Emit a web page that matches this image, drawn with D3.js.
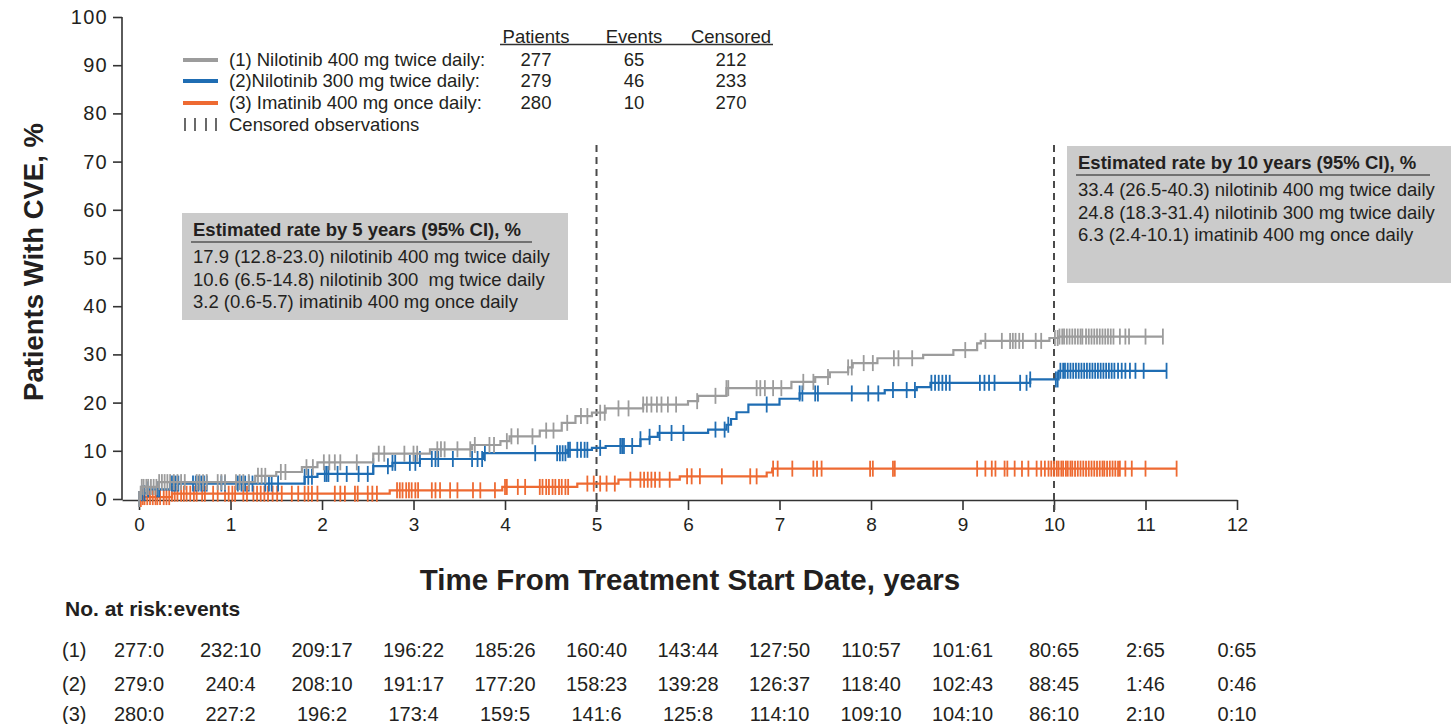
<!DOCTYPE html>
<html>
<head>
<meta charset="utf-8">
<script src="https://cdn.jsdelivr.net/npm/d3@7"></script>
<style>
  html, body { margin: 0; padding: 0; background: #fff; }
  svg { display: block; font-family: "Liberation Sans", Arial, Helvetica, sans-serif; }
  text { white-space: pre; }
</style>
</head>
<body>
<svg id="chart" width="1451" height="724"></svg>
<script>
// ---- Cumulative incidence step functions (years, %) ----
const arm1Times = [0, 0.02, 0.21, 1.27, 1.5, 1.78, 1.95, 2.56, 3.18, 3.64, 3.95, 4.05, 4.38, 4.62, 4.77, 4.95, 5.1, 5.51, 6.0, 6.11, 6.42, 7.13, 7.39, 7.55, 7.75, 7.8, 8.07, 8.57, 8.9, 9.16, 9.2, 9.95, 10.05];
const arm1Rates = [0, 2.5, 3.5, 4.8, 5.6, 6.6, 7.6, 9.4, 10.3, 11.2, 12.0, 13.0, 14.2, 15.8, 17.2, 17.9, 18.8, 19.6, 20.3, 21.4, 23.0, 24.3, 25.3, 26.3, 27.3, 28.2, 29.2, 29.9, 30.9, 32.3, 32.8, 33.4, 33.7];
const arm1End = 11.19;

const arm2Times = [0, 0.03, 0.1, 0.34, 1.81, 1.95, 2.56, 2.77, 3.07, 3.76, 4.68, 4.95, 5.1, 5.48, 5.58, 5.67, 6.22, 6.42, 6.47, 6.53, 6.66, 7.0, 7.22, 8.15, 8.5, 8.65, 9.74, 10.05];
const arm2Rates = [0, 1.2, 2.0, 3.2, 4.6, 5.2, 6.8, 7.5, 8.3, 9.5, 10.2, 10.6, 11.0, 12.4, 12.9, 13.7, 14.4, 15.4, 16.6, 18.0, 19.6, 20.8, 21.9, 22.6, 23.2, 24.1, 24.8, 26.6];
const arm2End = 11.23;

const arm3Times = [0, 0.04, 0.36, 2.74, 3.97, 4.79, 5.24, 5.91, 6.86, 6.92];
const arm3Rates = [0, 0.4, 1.1, 1.8, 2.5, 3.2, 4.0, 4.7, 5.5, 6.3];
const arm3End = 11.34;

// ---- Censoring times (years) ----
const arm1Censored = [0.0,0.03,0.05,0.08,0.1,0.13,0.16,0.19,0.22,0.25,0.28,0.31,0.34,0.38,0.42,0.46,0.5,
  0.63,0.66,0.7,0.74,0.86,0.9,0.94,1.06,1.1,1.14,1.2,1.3,1.34,1.38,1.55,1.6,1.83,1.9,2.02,2.08,2.14,2.2,2.38,
  2.62,2.68,2.9,3.0,3.04,3.26,3.3,3.34,3.48,3.62,3.67,3.83,3.88,4.02,4.07,4.14,4.3,4.45,4.53,4.68,4.83,4.9,
  5.04,5.09,5.24,5.35,5.51,5.55,5.6,5.66,5.71,5.78,5.87,6.1,6.3,6.42,6.44,6.75,6.79,6.84,6.93,7.02,7.26,7.37,
  7.53,7.75,7.79,7.92,8.02,8.25,8.3,8.45,9.03,9.25,9.43,9.52,9.55,9.58,9.62,9.66,9.8,9.86,
  10.01,10.04,10.06,10.09,10.11,10.14,10.17,10.2,10.23,10.26,10.29,10.31,10.35,10.38,10.41,10.44,10.47,10.5,
  10.53,10.56,10.59,10.62,10.65,10.72,10.78,10.82,11.0,11.19];

const arm2Censored = [0.0,0.03,0.06,0.1,0.2,0.22,0.36,0.38,0.4,0.43,0.59,0.62,0.65,0.68,0.71,0.74,0.9,0.94,
  1.08,1.12,1.16,1.2,1.24,1.38,1.42,1.45,1.52,1.81,1.85,1.89,2.03,2.05,2.07,2.17,2.27,2.4,2.5,2.56,2.72,2.77,2.8,
  2.96,3.02,3.07,3.2,3.24,3.27,3.43,3.64,3.7,3.75,3.78,4.33,4.57,4.6,4.63,4.66,4.69,4.71,4.79,4.83,4.87,4.9,
  5.04,5.26,5.28,5.3,5.39,5.48,5.58,5.69,5.82,5.95,6.3,6.4,6.44,6.86,7.22,7.25,7.39,7.42,7.79,7.97,8.08,8.24,
  8.39,8.48,8.66,8.7,8.74,8.78,8.82,8.86,9.19,9.24,9.29,9.35,9.63,9.7,9.74,
  10.02,10.04,10.07,10.1,10.12,10.15,10.18,10.21,10.24,10.27,10.3,10.33,10.36,10.39,10.42,10.45,10.48,10.51,
  10.54,10.57,10.6,10.63,10.66,10.7,10.74,10.78,10.83,10.89,10.98,11.23];

const arm3Censored = [0.0,0.02,0.04,0.06,0.09,0.12,0.15,0.18,0.2,0.23,0.27,0.3,0.33,0.36,0.39,0.42,0.46,0.49,
  0.52,0.56,0.6,0.63,0.69,0.72,0.81,0.86,0.94,0.98,1.02,1.05,1.14,1.18,1.25,1.29,1.33,1.37,1.41,1.46,1.51,1.56,
  1.67,1.74,1.81,1.85,1.89,1.95,2.14,2.2,2.25,2.36,2.39,2.5,2.55,2.6,2.82,2.85,2.88,2.92,2.95,2.98,3.02,3.05,
  3.2,3.24,3.29,3.4,3.48,3.65,3.73,3.89,4.0,4.02,4.14,4.22,4.38,4.41,4.45,4.48,4.52,4.55,4.59,4.62,4.66,4.69,
  4.9,4.97,5.04,5.11,5.2,5.37,5.48,5.52,5.56,5.6,5.64,5.69,5.8,5.99,6.04,6.13,6.37,6.68,6.75,6.93,6.98,7.14,
  7.37,7.41,7.46,7.99,8.02,8.24,8.26,9.16,9.25,9.32,9.36,9.46,9.49,9.57,9.65,9.72,9.81,9.86,9.9,9.94,9.97,
  10.0,10.03,10.05,10.08,10.1,10.13,10.15,10.18,10.2,10.23,10.26,10.29,10.32,10.35,10.38,10.41,10.44,10.47,
  10.5,10.53,10.55,10.58,10.61,10.64,10.67,10.7,10.72,10.78,10.85,11.0,11.34];

// ---- Legend and summary table ----
const armLabels = ["(1) Nilotinib 400 mg twice daily:", "(2)Nilotinib 300 mg twice daily:", "(3) Imatinib 400 mg once daily:"];
const armColors = ["#9c9c9c", "#1f6db3", "#ee6a32"];
const patients = [277, 279, 280];
const events = [65, 46, 10];
const censored = [212, 233, 270];
const tableHeaders = ["Patients", "Events", "Censored"];

// ---- Landmark estimates ----
const landmarkYears = [5, 10];
const box5Title = "Estimated rate by 5 years (95% CI), %";
const box5Lines = ["17.9 (12.8-23.0) nilotinib 400 mg twice daily", "10.6 (6.5-14.8) nilotinib 300  mg twice daily", "3.2 (0.6-5.7) imatinib 400 mg once daily"];
const box10Title = "Estimated rate by 10 years (95% CI), %";
const box10Lines = ["33.4 (26.5-40.3) nilotinib 400 mg twice daily", "24.8 (18.3-31.4) nilotinib 300 mg twice daily", "6.3 (2.4-10.1) imatinib 400 mg once daily"];

// ---- Axis ticks ----
const xTicks = [0, 1, 2, 3, 4, 5, 6, 7, 8, 9, 10, 11, 12];
const yTicks = [0, 10, 20, 30, 40, 50, 60, 70, 80, 90, 100];

// ---- Number at risk : events ----
const riskArm1 = ["277:0", "232:10", "209:17", "196:22", "185:26", "160:40", "143:44", "127:50", "110:57", "101:61", "80:65", "2:65", "0:65"];
const riskArm2 = ["279:0", "240:4", "208:10", "191:17", "177:20", "158:23", "139:28", "126:37", "118:40", "102:43", "88:45", "1:46", "0:46"];
const riskArm3 = ["280:0", "227:2", "196:2", "173:4", "159:5", "141:6", "125:8", "114:10", "109:10", "104:10", "86:10", "2:10", "0:10"];
const riskLabels = ["(1)", "(2)", "(3)"];

// =====================================================================
const svg = d3.select("#chart");
const textColor = "#231f20";
const fs = 18.5;

const x = d3.scaleLinear().domain([-0.186, 12]).range([122, 1237]);
const y = d3.scaleLinear().domain([0, 100]).range([499, 17]);
const axisY0 = 500;

// Axes
const xAxis = svg.append("g")
  .attr("transform", `translate(0,${axisY0})`)
  .call(d3.axisBottom(x).tickValues(xTicks).tickSize(10).tickSizeOuter(0).tickPadding(8).tickFormat(d3.format("d")));
const yAxis = svg.append("g")
  .attr("transform", `translate(${x(-0.186)},0)`)
  .call(d3.axisLeft(y).tickValues(yTicks).tickSize(9).tickSizeOuter(0).tickPadding(5).tickFormat(d3.format("d")));
[xAxis, yAxis].forEach(g => {
  g.selectAll("path.domain").attr("stroke", "#333").attr("stroke-width", 1.6);
  g.selectAll(".tick line").attr("stroke", "#333").attr("stroke-width", 1.6);
  g.selectAll(".tick text").attr("fill", textColor).attr("font-size", 19)
    .attr("font-family", "'Liberation Sans', Arial, sans-serif");
});
yAxis.select("path.domain").attr("d", `M0,${y(100)}V${axisY0}`);
yAxis.selectAll(".tick text").attr("font-size", 20).attr("letter-spacing", "1.3px");

// Landmark dashed lines
svg.append("g").selectAll("line").data(landmarkYears).join("line")
  .attr("x1", d => x(d)).attr("x2", d => x(d))
  .attr("y1", 145).attr("y2", 512)
  .attr("stroke", "#4a4a4a").attr("stroke-width", 2)
  .attr("stroke-dasharray", "7,5");

// Curves
const arms = [
  { times: arm1Times, rates: arm1Rates, end: arm1End, cens: arm1Censored, color: armColors[0] },
  { times: arm2Times, rates: arm2Rates, end: arm2End, cens: arm2Censored, color: armColors[1] },
  { times: arm3Times, rates: arm3Rates, end: arm3End, cens: arm3Censored, color: armColors[2] }
];
const stepLine = d3.line().x(d => x(d[0])).y(d => y(d[1])).curve(d3.curveStepAfter);
function rateAt(arm, t) {
  const i = d3.bisectRight(arm.times, t) - 1;
  return arm.rates[Math.max(0, i)];
}
const half = 8;
// orange first, gray last
[2, 1, 0].forEach(k => {
  const arm = arms[k];
  const pts = arm.times.map((t, i) => [t, arm.rates[i]]);
  pts.push([arm.end, arm.rates[arm.rates.length - 1]]);
  const g = svg.append("g");
  g.append("path").attr("d", stepLine(pts))
    .attr("fill", "none").attr("stroke", arm.color).attr("stroke-width", 2.2);
  g.selectAll("line").data(arm.cens).join("line")
    .attr("x1", d => x(d)).attr("x2", d => x(d))
    .attr("y1", d => y(rateAt(arm, d)) - half)
    .attr("y2", d => y(rateAt(arm, d)) + half)
    .attr("stroke", arm.color).attr("stroke-width", 1.8);
});

// Axis titles
svg.append("text")
  .attr("transform", `translate(43,262) rotate(-90)`)
  .attr("text-anchor", "middle").attr("font-weight", "bold").attr("font-size", 27.5)
  .attr("fill", textColor).text("Patients With CVE, %");
svg.append("text")
  .attr("x", 690).attr("y", 590)
  .attr("text-anchor", "middle").attr("font-weight", "bold").attr("font-size", 29.5)
  .attr("fill", textColor).text("Time From Treatment Start Date, years");

// Legend
const legendY = [60, 81, 103];
const legend = svg.append("g");
armLabels.forEach((lab, i) => {
  legend.append("line").attr("x1", 183).attr("x2", 218).attr("y1", legendY[i]).attr("y2", legendY[i])
    .attr("stroke", armColors[i]).attr("stroke-width", 4);
  legend.append("text").attr("x", 229).attr("y", legendY[i]).attr("dy", "0.35em")
    .attr("font-size", fs).attr("fill", textColor).text(lab);
});
[185, 195, 206, 216].forEach(px => {
  legend.append("line").attr("x1", px).attr("x2", px).attr("y1", 118).attr("y2", 131)
    .attr("stroke", "#444").attr("stroke-width", 1.6);
});
legend.append("text").attr("x", 229).attr("y", 125).attr("dy", "0.35em")
  .attr("font-size", fs).attr("fill", textColor).text("Censored observations");

// Summary table
const colX = [536, 634, 731];
tableHeaders.forEach((h, j) => {
  legend.append("text").attr("x", colX[j]).attr("y", 37).attr("dy", "0.35em")
    .attr("text-anchor", "middle").attr("font-size", fs).attr("fill", textColor).text(h);
});
legend.append("line").attr("x1", 500).attr("x2", 773).attr("y1", 44.5).attr("y2", 44.5)
  .attr("stroke", "#333").attr("stroke-width", 1.5);
[patients, events, censored].forEach((col, j) => {
  col.forEach((v, i) => {
    legend.append("text").attr("x", colX[j]).attr("y", legendY[i]).attr("dy", "0.35em")
      .attr("text-anchor", "middle").attr("font-size", fs).attr("fill", textColor).text(v);
  });
});

// Landmark boxes
function drawBox(bx, by, bw, bh, title, lines, ulEnd) {
  const g = svg.append("g");
  g.append("rect").attr("x", bx).attr("y", by).attr("width", bw).attr("height", bh).attr("fill", "#cbcbcb");
  g.append("text").attr("x", bx + 11).attr("y", by + 17).attr("dy", "0.35em")
    .attr("font-size", fs).attr("font-weight", "bold").attr("fill", textColor).text(title);
  g.append("line").attr("x1", bx + 9).attr("x2", ulEnd).attr("y1", by + 29).attr("y2", by + 29)
    .attr("stroke", "#555").attr("stroke-width", 1.5);
  lines.forEach((l, i) => {
    g.append("text").attr("x", bx + 11).attr("y", by + 44 + i * 22.5).attr("dy", "0.35em")
      .attr("font-size", fs).attr("fill", textColor).attr("xml:space", "preserve").text(l);
  });
}
drawBox(182, 213, 386, 107, box5Title, box5Lines, 532);
drawBox(1067, 146, 384, 137, box10Title, box10Lines, 1430);

// Number at risk table
svg.append("text").attr("x", 65).attr("y", 609).attr("dy", "0.35em")
  .attr("font-size", 21).attr("font-weight", "bold").attr("fill", textColor).text("No. at risk:events");
const riskRowsY = [650, 684, 714];
[riskArm1, riskArm2, riskArm3].forEach((row, i) => {
  svg.append("text").attr("x", 62).attr("y", riskRowsY[i]).attr("dy", "0.35em")
    .attr("font-size", 20).attr("fill", textColor).text(riskLabels[i]);
  svg.append("g").selectAll("text").data(row).join("text")
    .attr("x", (d, j) => x(xTicks[j])).attr("y", riskRowsY[i]).attr("dy", "0.35em")
    .attr("text-anchor", "middle").attr("font-size", 20).attr("fill", textColor)
    .text(d => d);
});
</script>
</body>
</html>
